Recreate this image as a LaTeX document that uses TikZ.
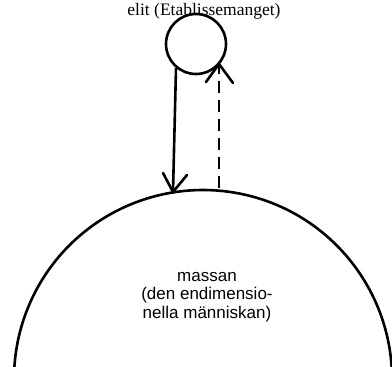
\documentclass[tikz,border=0pt]{standalone}
\usepackage{fontspec}
\setmainfont{Liberation Serif}
\newfontfamily\labelfont{Liberation Sans}
\begin{document}
\begin{tikzpicture}[x=1pt,y=-1pt,
  ln/.style={line width=2.6pt},
  vtip/.style={ln, line cap=round, line join=miter},
  lbl/.style={font=\labelfont\fontsize{17}{18.5}\selectfont, align=center},
  ttl/.style={font=\fontsize{17.5}{20}\selectfont, anchor=base, inner sep=0pt}]
\useasboundingbox (0,0) rectangle (392,367);
% title
\node[ttl] (title) at (204,15) {elit (Etablissemanget)};
% small circle (elite)
\node[circle, draw, ln, minimum size=60pt, inner sep=0pt] (elite) at (196,44) {};
% big arc (mass)
\begin{scope}
\clip (0,0) rectangle (392,367);
\coordinate (mc) at (203,379);
\draw[ln] (mc) ++(186.5:189) arc[start angle=186.5, end angle=-174.5, radius=189];
\end{scope}
\node[lbl] (mass) at (207,297) {massan\\(den endimensio-\\nella människan)};
% connectors
\coordinate (s1) at (176,68);
\coordinate (s2) at (173,192);
\coordinate (d1) at (219,188);
\coordinate (d2) at (219,64);
\draw[ln] (s1) -- (s2);
\draw[vtip] (163,173) -- (s2) -- (187,175);
\draw[ln, dash pattern=on 12pt off 7pt] (d1) -- (d2);
\draw[vtip] (206,82) -- (d2) -- (233,83);
\end{tikzpicture}
\end{document}
